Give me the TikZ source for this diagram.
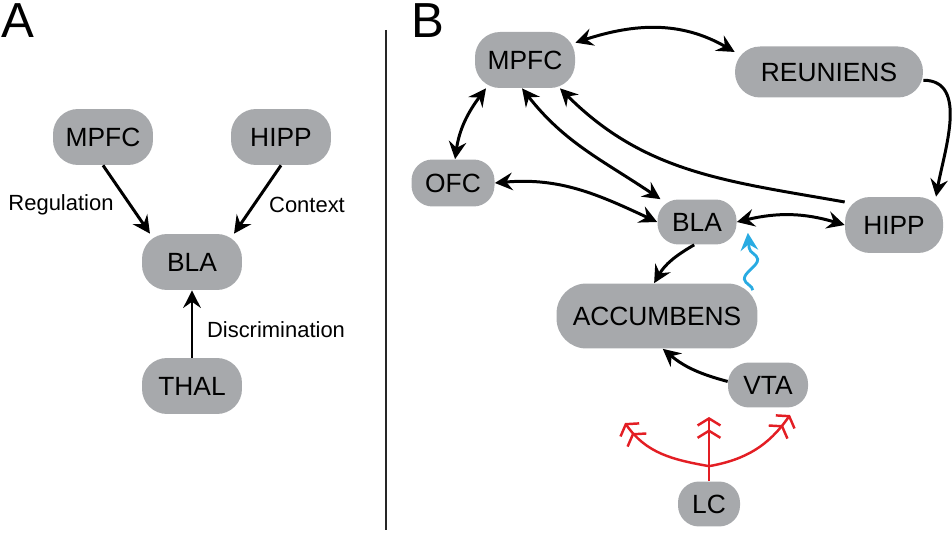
\documentclass[tikz,border=0pt]{standalone}
\usepackage{fontspec}
\setmainfont{Liberation Sans}
\usepackage{tikz}
\usetikzlibrary{arrows.meta,decorations.pathmorphing}
\definecolor{regiongray}{RGB}{167,169,172}
\definecolor{lcred}{RGB}{227,30,36}
\definecolor{waveblue}{RGB}{41,171,226}

\begin{document}
\begin{tikzpicture}[x=0.02cm,y=-0.02cm,
  >={Stealth[length=10pt,width=10pt,inset=3.5pt]},
  nucleus/.style={fill=regiongray,rounded corners=0.5cm,inner sep=0pt,
    font=\fontsize{15}{18}\selectfont,minimum width=2cm,minimum height=1.12cm},
  smallnuc/.style={minimum width=1.6cm,minimum height=0.9cm,rounded corners=0.42cm},
  link/.style={line width=1.7pt},
  redarr/.style={lcred,line width=1.4pt,
    -{Straight Barb[length=4pt,width=13pt,sep=1.5pt]Straight Barb[length=4pt,width=13pt]}},
  lab/.style={font=\fontsize{12.5}{15}\selectfont},
  panel/.style={font=\fontsize{28}{32}\selectfont}]
\useasboundingbox (0,0) rectangle (952,536);

% panel A
\node[panel] (pa) at (18,21) {A};
\node[nucleus] (mpfcA) at (103,137) {MPFC};
\node[nucleus] (hippA) at (281,137) {HIPP};
\node[nucleus] (blaA) at (192,262) {BLA};
\node[nucleus] (thalA) at (192,386) {THAL};
\node[lab] (regLab) at (61,205) {Regulation};
\node[lab] (ctxLab) at (307,205) {Context};
\node[lab] (discLab) at (276,330) {Discrimination};
\draw[link,->] (mpfcA.south) -- (blaA.146);
\draw[link,->] (hippA.south) -- (blaA.34);
\draw[link,->] (thalA) -- (blaA);

% divider
\draw[line width=1.1pt,black!85] (386,30) -- (386,530);

% panel B
\node[panel] (pb) at (428,21) {B};
\node[nucleus] (mpfcB) at (525,60) {MPFC};
\node[nucleus,minimum width=3.76cm,minimum height=1.02cm] (reun) at (829,72) {REUNIENS};
\node[nucleus,smallnuc,minimum width=1.66cm,minimum height=0.94cm] (ofc) at (453,183) {OFC};
\node[nucleus,smallnuc,minimum width=1.58cm] (blaB) at (697,222) {BLA};
\node[nucleus,minimum width=1.96cm] (hippB) at (894,225) {HIPP};
\node[nucleus,minimum width=4.02cm,minimum height=1.3cm,rounded corners=0.6cm] (acc) at (657,316) {ACCUMBENS};
\node[nucleus,smallnuc] (vta) at (768,385) {VTA};
\node[nucleus,smallnuc,minimum width=1.24cm] (lc) at (709,504) {LC};

\draw[link,<->] (mpfcB.19) to[out=18,in=150] (reun.168);
\draw[link,->] (reun.-5) to[out=0,in=80] (hippB.34);
\draw[link,->] (hippB.155) to[out=170,in=-45] (mpfcB.-39);
\draw[link,<->] (mpfcB.-96) to[out=-52,in=146] (blaB.148);
\draw[link,<->] (ofc.85) to[out=82,in=-127] (mpfcB.-144);
\draw[link,<->] (ofc.east) to[out=5,in=155] (blaB.west);
\draw[link,<->] (blaB.east) to[bend left=15] (hippB.west);
\draw[link,->] (blaB.-97) to[out=-150,in=60] (acc.95);
\draw[link,->] (vta.175) to[out=165,in=-40] (acc.-80);

% wavy input to BLA
\draw[waveblue,line width=1.6pt,->,decorate,
  decoration={snake,amplitude=0.15cm,segment length=0.75cm,post length=0.2cm}]
  ([shift={(-5,7)}]acc.north east) -- ([shift={(11,-12)}]blaB.south east);

% LC projections
\coordinate (fork) at ([yshift=0.3cm]lc.north);
\coordinate (tipL) at (625,423);
\coordinate (tipM) at (709,417);
\coordinate (tipR) at (790,415);
\draw[redarr] (lc.north) -- (tipM);
\draw[redarr] (fork) to[out=170,in=-55] (tipL);
\draw[redarr] (fork) to[out=10,in=-125] (tipR);
\end{tikzpicture}
\end{document}
